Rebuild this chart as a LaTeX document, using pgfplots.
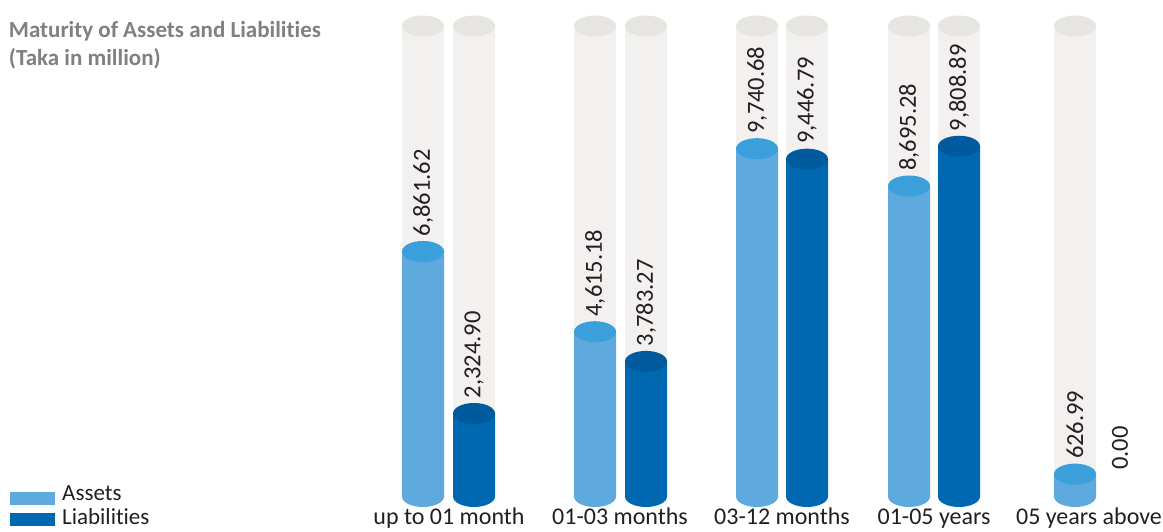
\documentclass[border=0pt]{standalone}
\usepackage{pgfplots}
\usepackage{pgfplotstable}
\pgfplotsset{compat=1.18}
\usepackage{fontspec}
\setmainfont{Carlito}[Ligatures=NoCommon]
\definecolor{asset}{HTML}{5EA9DD}
\definecolor{assettop}{HTML}{3A9FDB}
\definecolor{liab}{HTML}{0067B1}
\definecolor{liabtop}{HTML}{005B9E}
\definecolor{bg}{HTML}{F2F1EF}
\definecolor{bgtop}{HTML}{E6E5E1}
\definecolor{titlegray}{HTML}{808080}
\definecolor{txt}{HTML}{231F20}
\tikzset{catlab/.style={anchor=base, font=\fontsize{24}{28}\selectfont, text=txt, inner sep=0pt}}
\pgfdeclareplotmark{cyl}{\pgfpathellipse{\pgfpointorigin}{\pgfqpoint{21pt}{0pt}}{\pgfqpoint{0pt}{10.5pt}}\pgfusepathqfill}
% x positions (px), values in Taka million, base 0
\pgfplotstableread{
x v b
423 6861.62 0
595 4615.18 0
757 9740.68 0
909 8695.28 0
1075 626.99 0
}\assets
\pgfplotstableread{
x v b
474 2324.90 0
646 3783.27 0
807 9446.79 0
959 9808.89 0
}\liabs
\pgfplotstableread{
x v
423 13176
474 13176
595 13176
646 13176
757 13176
807 13176
909 13176
959 13176
1075 13176
}\bgcyl
\begin{document}
\begin{tikzpicture}
\begin{axis}[
  scale only axis, width=1163pt, height=532pt,
  xmin=0, xmax=1163, ymin=-994, ymax=13904,
  hide axis, clip=false,
  every node near coord/.append style={font=\fontsize{24.5}{28}\selectfont, text=txt},
]
% background cylinders
\addplot[ybar, bar width=42pt, bar shift=0pt, fill=bg, draw=none] table[x=x,y=v] {\bgcyl};
\addplot[only marks, mark=cyl, color=bgtop] table[x=x,y=v] {\bgcyl};
% assets
\addplot[ybar, bar width=42pt, bar shift=0pt, fill=asset, draw=none] table[x=x,y=v] {\assets};
\addplot[only marks, mark=cyl, color=asset] table[x=x,y=b] {\assets};
\addplot[only marks, mark=cyl, color=assettop] table[x=x,y=v] {\assets};
% liabilities
\addplot[ybar, bar width=42pt, bar shift=0pt, fill=liab, draw=none] table[x=x,y=v] {\liabs};
\addplot[only marks, mark=cyl, color=liab] table[x=x,y=b] {\liabs};
\addplot[only marks, mark=cyl, color=liabtop] table[x=x,y=v] {\liabs};
% value labels
\addplot[only marks, mark=none, nodes near coords, point meta=explicit symbolic,
  nodes near coords style={rotate=90, anchor=west, inner sep=0pt}]
  coordinates {
  (423,7281)[6,861.62] (474,2745)[2,324.90]
  (595,5035)[4,615.18] (646,4203)[3,783.27]
  (757,10161)[9,740.68] (807,9867)[9,446.79]
  (909,9115)[8,695.28] (959,10229)[9,808.89]
  (1075,1047)[626.99] (1120,740)[0.00]
  };
\path (rel axis cs:0,0) rectangle (rel axis cs:1,1);
% title
\node[anchor=base west, font=\fontsize{23}{27}\selectfont\bfseries, text=titlegray, inner sep=0pt]
  at (rel axis cs:0.0075,0.930) {Maturity of Assets and Liabilities};
\node[anchor=base west, font=\fontsize{23}{27}\selectfont\bfseries, text=titlegray, inner sep=0pt]
  at (rel axis cs:0.0075,0.877) {(Taka in million)};
% category labels
\node[catlab] at (axis cs:449,-795) {up to 01 month};
\node[catlab] at (axis cs:620,-795) {01-03 months};
\node[catlab] at (axis cs:782,-795) {03-12 months};
\node[catlab] at (axis cs:934,-795) {01-05 years};
\node[catlab] at (axis cs:1089,-795) {05 years above};
% legend
\fill[asset] (axis cs:10,-237) rectangle (axis cs:55,128);
\fill[liab] (axis cs:10,-826) rectangle (axis cs:55,-462);
\node[anchor=base west, font=\fontsize{23}{27}\selectfont, text=txt, inner sep=0pt] at (axis cs:62,-126) {Assets};
\node[anchor=base west, font=\fontsize{23}{27}\selectfont, text=txt, inner sep=0pt] at (axis cs:62,-798) {Liabilities};
\end{axis}
\end{tikzpicture}
\end{document}
